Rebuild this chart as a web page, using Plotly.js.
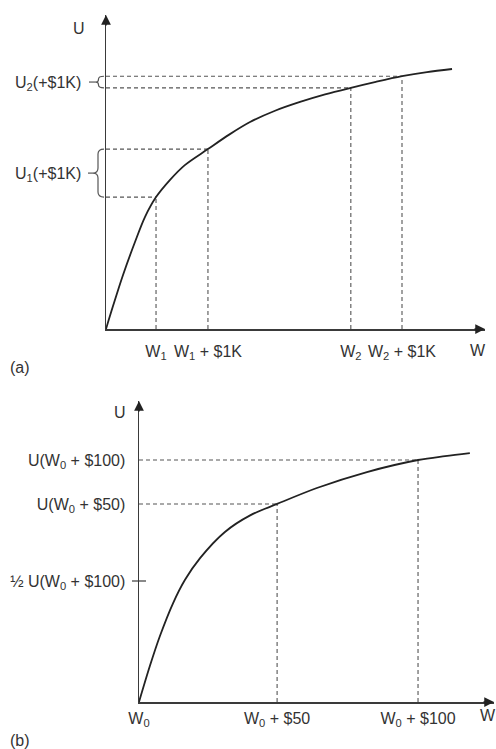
<!DOCTYPE html>
<html><head><meta charset="utf-8">
<script src="https://cdn.plot.ly/plotly-3.0.1.min.js"></script>
<style>html,body{margin:0;padding:0;background:#fff}#chart{width:496px;height:749px}</style>
</head><body><div id="chart"></div>
<script>
// ---------- Panel (a) ----------
const aCurveW = [0, 1.85, 4.49, 7.65, 10.3, 13.2, 16.9, 20.8, 26.9, 32.5, 38.0, 44.6, 51.2, 57.8, 64.6, 71.2, 78.1, 84.7, 91.3];
const aCurveU = [0, 7.3, 17.2, 27.7, 35.7, 42.0, 47.5, 52.2, 57.3, 61.9, 65.9, 69.5, 72.3, 74.7, 76.8, 78.7, 80.5, 81.8, 82.8];
const aMarkW = [13.2, 26.9, 64.6, 78.1];
const aMarkU = [42.0, 57.3, 76.8, 80.5];
const aXTickText = ['W<sub>1</sub>', 'W<sub>1</sub> + $1K', 'W<sub>2</sub>', 'W<sub>2</sub> + $1K'];
const aYTickText = ['U<sub>1</sub>(+$1K)', 'U<sub>2</sub>(+$1K)'];

// ---------- Panel (b) ----------
const bCurveW = [0, 3.1, 5.92, 9.58, 12.96, 17.2, 24.2, 31.3, 38.9, 50.1, 64.2, 78.6, 86.2, 93.2];
const bCurveU = [0, 12.1, 22.0, 32.8, 40.6, 47.8, 56.5, 62.0, 65.8, 71.1, 76.4, 80.4, 81.7, 82.7];
const bMarkW = [38.9, 78.6];
const bMarkU = [65.8, 80.4];
const bXTickText = ['W<sub>0</sub>', 'W<sub>0</sub> + $50', 'W<sub>0</sub> + $100'];
const bYTickText = ['U(W<sub>0</sub> + $50)', 'U(W<sub>0</sub> + $100)', '½ U(W<sub>0</sub> + $100)'];

const W = 496, H = 749;
const px = v => v / W;
const py = v => 1 - v / H;
const FONT = {family: '"Liberation Sans", Arial, Helvetica, sans-serif', size: 16, color: '#333'};
const AXC = '#3a3a3a';

function guides(ws, us) {
  const x = [], y = [];
  ws.forEach((w, i) => {
    x.push(0, w, null, w, w, null);
    y.push(us[i], us[i], null, 0, us[i], null);
  });
  return {x, y};
}
const ga = guides(aMarkW, aMarkU);
const gb = guides(bMarkW, bMarkU);

const dashLine = {color: '#555', width: 1.1, dash: '4px,3px'};
const curveLine = {color: '#222', width: 1.8, shape: 'spline', smoothing: 0.9};

const traces = [
  {x: ga.x, y: ga.y, xaxis: 'x', yaxis: 'y', mode: 'lines', line: dashLine, hoverinfo: 'skip'},
  {x: aCurveW, y: aCurveU, xaxis: 'x', yaxis: 'y', mode: 'lines', line: curveLine},
  {x: gb.x, y: gb.y, xaxis: 'x2', yaxis: 'y2', mode: 'lines', line: dashLine, hoverinfo: 'skip'},
  {x: bCurveW, y: bCurveU, xaxis: 'x2', yaxis: 'y2', mode: 'lines', line: curveLine}
];

const aYTicks = [(aMarkU[0] + aMarkU[1]) / 2, (aMarkU[2] + aMarkU[3]) / 2];
const bHalf = bMarkU[1] / 2;
const bYTicks = [bMarkU[0], bMarkU[1], bHalf];

const baseAxis = {showgrid: false, zeroline: false, showline: true, linecolor: AXC, linewidth: 1.5,
  ticks: '', tickfont: FONT, fixedrange: true};

// brace shape built from data values (x in paper fraction, y in data units)
function brace(yref, y0, y1, xR, xS, xT, r) {
  const ym = (y0 + y1) / 2;
  const p = `M${xR},${y0} Q${xS},${y0} ${xS},${y0 + r} L${xS},${ym - r} Q${xS},${ym} ${xT},${ym} ` +
            `Q${xS},${ym} ${xS},${ym + r} L${xS},${y1 - r} Q${xS},${y1} ${xR},${y1}`;
  return {type: 'path', xref: 'paper', yref: yref, path: p, line: {color: '#555', width: 1.2}};
}

const shapes = [
  brace('y', aMarkU[0], aMarkU[1], px(104), px(98), px(93), 1.6),
  {type: 'line', xref: 'paper', yref: 'y', x0: px(88), x1: px(93), y0: aYTicks[0], y1: aYTicks[0], line: {color: '#555', width: 1.2}},
  brace('y', aMarkU[2], aMarkU[3], px(104), px(98.5), px(96), 0.9),
  {type: 'line', xref: 'paper', yref: 'y', x0: px(89), x1: px(96), y0: aYTicks[1], y1: aYTicks[1], line: {color: '#555', width: 1.2}},
  {type: 'line', xref: 'paper', yref: 'y2', x0: px(132), x1: px(146), y0: bHalf, y1: bHalf, line: {color: AXC, width: 1.2}}
];

function ann(text, x, y, opts) {
  return Object.assign({text, x, y, xref: 'paper', yref: 'paper', showarrow: false, font: FONT,
    xanchor: 'center', yanchor: 'middle'}, opts || {});
}
function arrow(xref, yref, x, y, ax, ay) {
  return {xref, yref, x, y, ax, ay, axref: 'pixel', ayref: 'pixel', text: '', showarrow: true,
    arrowhead: 2, arrowsize: 1.3, arrowwidth: 1.5, arrowcolor: '#222', standoff: 0};
}

const annotations = [
  ann('U', px(79), py(28)),
  ann('W', px(478), py(350)),
  ann('(a)', px(20), py(367)),
  ann('U', px(120), py(413)),
  ann('W', px(488), py(715)),
  ann('(b)', px(20), py(740)),
  arrow('x', 'y', 0, 100, 0, 12),
  arrow('x', 'y', 100, 0, -12, 0),
  arrow('x2', 'y2', 0, 100, 0, 12),
  arrow('x2', 'y2', 100, 0, -12, 0)
];

const layout = {
  width: W, height: H, margin: {l: 0, r: 0, t: 0, b: 0},
  paper_bgcolor: '#fff', plot_bgcolor: '#fff', showlegend: false, font: FONT,
  xaxis: Object.assign({}, baseAxis, {domain: [px(106), px(485)], range: [0, 100], anchor: 'y',
    tickvals: aMarkW, ticktext: aXTickText, ticklabelstandoff: 7}),
  yaxis: Object.assign({}, baseAxis, {domain: [py(329), py(15)], range: [0, 100], anchor: 'x',
    tickvals: aYTicks, ticktext: aYTickText, ticklabelstandoff: 20}),
  xaxis2: Object.assign({}, baseAxis, {domain: [px(139), px(494)], range: [0, 100], anchor: 'y2',
    tickvals: [0].concat(bMarkW), ticktext: bXTickText, ticklabelstandoff: 1}),
  yaxis2: Object.assign({}, baseAxis, {domain: [py(702), py(401)], range: [0, 100], anchor: 'x2',
    tickvals: bYTicks, ticktext: bYTickText, ticklabelstandoff: 9}),
  shapes, annotations
};

Plotly.newPlot('chart', traces, layout, {displayModeBar: false, staticPlot: true});
</script>
</body></html>
